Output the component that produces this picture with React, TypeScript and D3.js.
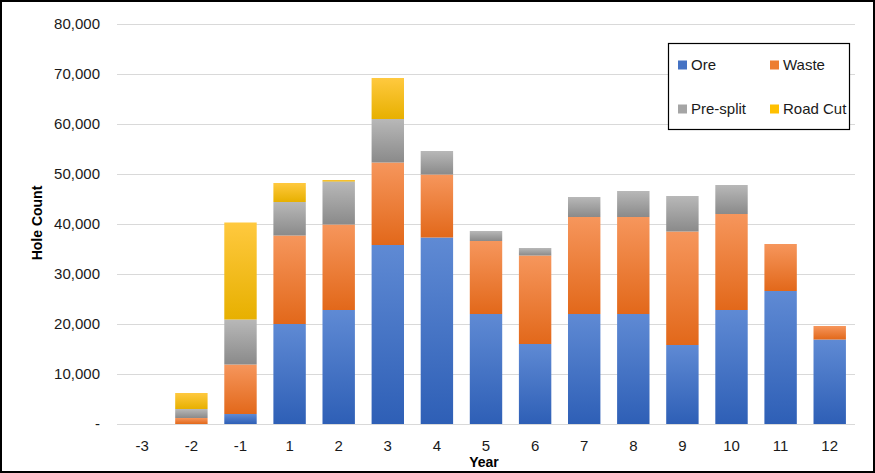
import React, { useRef, useEffect } from "react";
import * as d3 from "d3";

// Hole counts per year, stacked by blast type
const years = ["-3", "-2", "-1", "1", "2", "3", "4", "5", "6", "7", "8", "9", "10", "11", "12"];
const ore = [0, 0, 2000, 20000, 22800, 35800, 37300, 22000, 16000, 22000, 22000, 15800, 22800, 26600, 16900];
const waste = [0, 1200, 9900, 17700, 17100, 16500, 12600, 14600, 17700, 19400, 19400, 22700, 19200, 9400, 2700];
const presplit = [0, 1800, 9000, 6700, 8600, 8700, 4700, 2000, 1500, 4000, 5200, 7100, 5800, 0, 0];
const roadCut = [0, 3200, 19400, 3800, 300, 8200, 0, 0, 0, 0, 0, 0, 0, 0, 0];
const seriesNames = ["Ore", "Waste", "Pre-split", "Road Cut"];
const yTicks = [0, 10000, 20000, 30000, 40000, 50000, 60000, 70000, 80000];

// light (top) and dark (bottom) shade for each series, plus the flat legend swatch
const shades = [
  ["#5f8ad4", "#2e5fb6", "#4472c4"],
  ["#f6965c", "#e2681a", "#ed7d31"],
  ["#b8b8b8", "#8a8a8a", "#a5a5a5"],
  ["#ffc93f", "#e7b000", "#ffc000"],
];

const App = () => {
  const svgRef = useRef<SVGSVGElement>(null);

  useEffect(() => {
    const width = 875;
    const height = 473;
    const margin = { top: 24, right: 20, bottom: 49, left: 117 };
    const font = "'Liberation Sans', Arial, sans-serif";

    const svg = d3.select(svgRef.current).attr("width", width).attr("height", height);
    svg.selectAll("*").remove();

    const table = years.map((year, i) => ({
      year,
      Ore: ore[i],
      Waste: waste[i],
      "Pre-split": presplit[i],
      "Road Cut": roadCut[i],
    }));

    const x = d3
      .scaleBand()
      .domain(years)
      .range([margin.left, width - margin.right])
      .paddingInner(0.34)
      .paddingOuter(0.185);
    const y = d3.scaleLinear().domain([0, 80000]).range([height - margin.bottom, margin.top]);

    // gradients
    const defs = svg.append("defs");
    shades.forEach(([light, dark], i) => {
      const g = defs
        .append("linearGradient")
        .attr("id", `grad${i}`)
        .attr("x1", 0)
        .attr("y1", 0)
        .attr("x2", 0)
        .attr("y2", 1);
      g.append("stop").attr("offset", "0%").attr("stop-color", light);
      g.append("stop").attr("offset", "100%").attr("stop-color", dark);
    });

    svg.append("rect").attr("width", width).attr("height", height).attr("fill", "#fff");

    // gridlines
    svg
      .append("g")
      .selectAll("line")
      .data(yTicks)
      .join("line")
      .attr("x1", margin.left)
      .attr("x2", width - margin.right)
      .attr("y1", (d) => Math.round(y(d)) + 0.5)
      .attr("y2", (d) => Math.round(y(d)) + 0.5)
      .attr("stroke", "#d9d9d9")
      .attr("stroke-width", 1);

    // y tick labels
    svg
      .append("g")
      .selectAll("text")
      .data(yTicks)
      .join("text")
      .attr("x", 100)
      .attr("y", (d) => y(d))
      .attr("dy", "0.36em")
      .attr("text-anchor", "end")
      .attr("font-family", font)
      .attr("font-size", 15)
      .attr("fill", "#1a1a1a")
      .text((d) => (d === 0 ? "-" : d3.format(",")(d)));

    // stacked bars
    const stacked = d3.stack<any>().keys(seriesNames)(table);
    svg
      .append("g")
      .selectAll("g")
      .data(stacked)
      .join("g")
      .attr("fill", (d, i) => `url(#grad${i})`)
      .selectAll("rect")
      .data((d) => d.filter((s) => s[1] - s[0] > 0))
      .join("rect")
      .attr("x", (d) => x(d.data.year)!)
      .attr("width", x.bandwidth())
      .attr("y", (d) => y(d[1]))
      .attr("height", (d) => y(d[0]) - y(d[1]));

    // x labels
    svg
      .append("g")
      .selectAll("text")
      .data(years)
      .join("text")
      .attr("x", (d) => x(d)! + x.bandwidth() / 2)
      .attr("y", 446)
      .attr("dy", "0.36em")
      .attr("text-anchor", "middle")
      .attr("font-family", font)
      .attr("font-size", 15)
      .attr("fill", "#1a1a1a")
      .text((d) => d);

    // axis titles
    svg
      .append("text")
      .attr("x", 484)
      .attr("y", 462)
      .attr("dy", "0.36em")
      .attr("text-anchor", "middle")
      .attr("font-family", font)
      .attr("font-size", 14)
      .attr("font-weight", "bold")
      .attr("fill", "#000")
      .text("Year");
    svg
      .append("text")
      .attr("transform", `translate(37, ${y(40000) - 1}) rotate(-90)`)
      .attr("dy", "0.36em")
      .attr("text-anchor", "middle")
      .attr("font-family", font)
      .attr("font-size", 14)
      .attr("font-weight", "bold")
      .attr("fill", "#000")
      .text("Hole Count");

    // legend
    const legend = svg.append("g").attr("transform", "translate(668, 43)");
    legend
      .append("rect")
      .attr("x", 0.5)
      .attr("y", 0.5)
      .attr("width", 181)
      .attr("height", 86)
      .attr("fill", "#fff")
      .attr("stroke", "#000")
      .attr("stroke-width", 1.2);
    const items = legend
      .selectAll("g")
      .data(seriesNames)
      .join("g")
      .attr("transform", (d, i) => `translate(${10 + (i % 2) * 92}, ${22 + Math.floor(i / 2) * 44})`);
    items
      .append("rect")
      .attr("x", 0)
      .attr("y", -4.5)
      .attr("width", 9)
      .attr("height", 9)
      .attr("fill", (d, i) => shades[i][2]);
    items
      .append("text")
      .attr("x", 13)
      .attr("dy", "0.36em")
      .attr("font-family", font)
      .attr("font-size", 15)
      .attr("fill", "#1a1a1a")
      .text((d) => d);

    // outer frame
    svg
      .append("rect")
      .attr("x", 1)
      .attr("y", 1)
      .attr("width", width - 2)
      .attr("height", height - 2)
      .attr("fill", "none")
      .attr("stroke", "#000")
      .attr("stroke-width", 2);
  }, []);

  return (
    <div style={{ position: "absolute", left: 0, top: 0 }}>
      <svg ref={svgRef} style={{ display: "block" }}></svg>
    </div>
  );
};

export default App;
